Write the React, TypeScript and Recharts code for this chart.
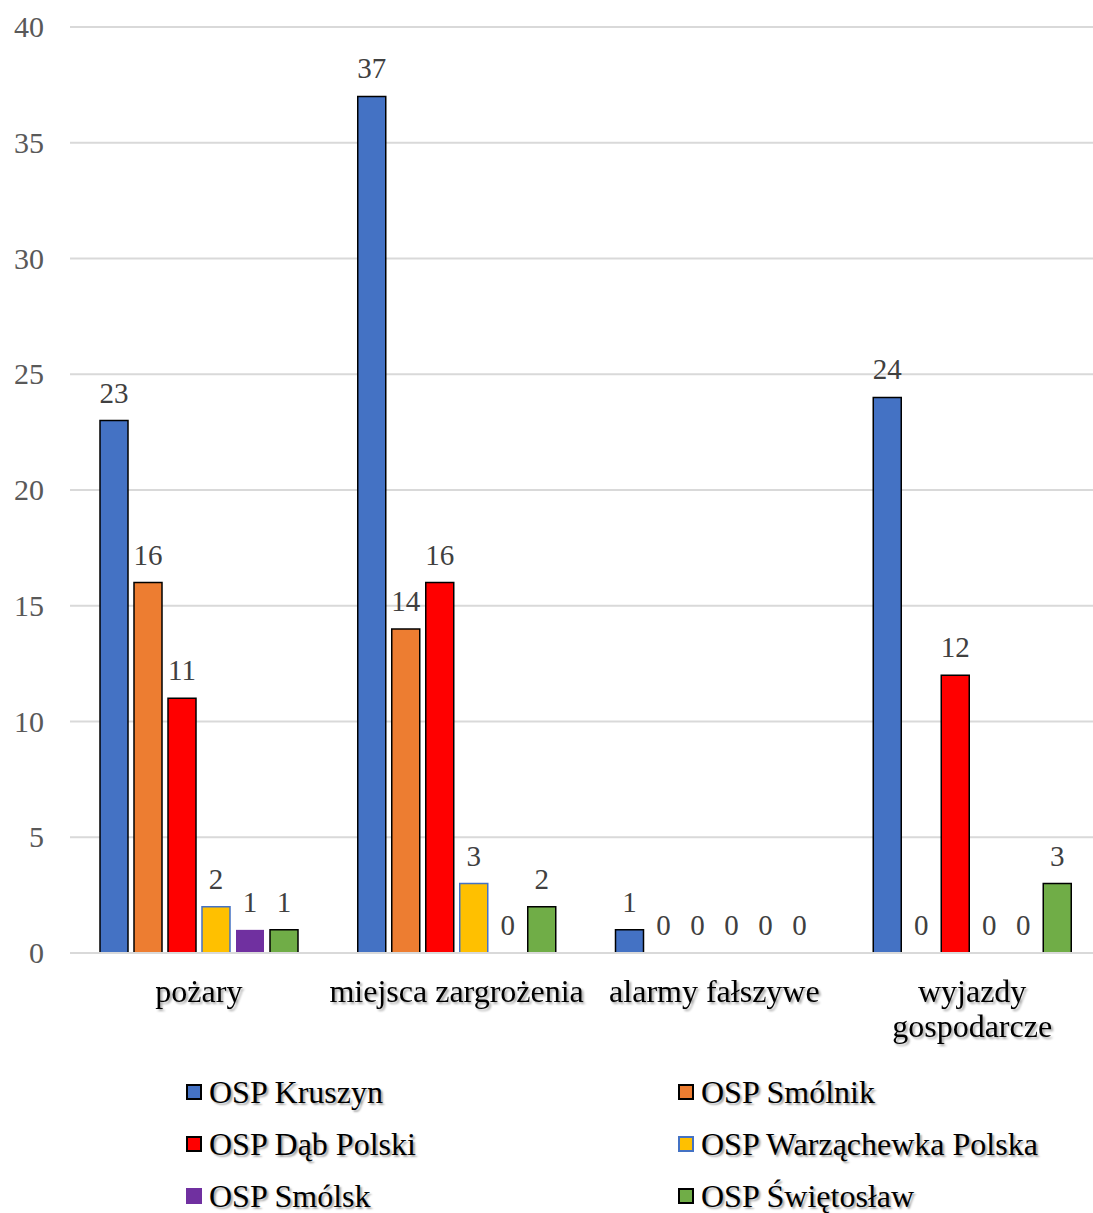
import React from "react";
import { BarChart, Bar, XAxis, YAxis, CartesianGrid, LabelList, Legend, Rectangle } from "recharts";

const categories = ["pożary", "miejsca zargrożenia", "alarmy fałszywe", "wyjazdy gospodarcze"];
const categoryLines: string[][] = [["pożary"], ["miejsca zargrożenia"], ["alarmy fałszywe"], ["wyjazdy", "gospodarcze"]];
const kruszyn = [23, 37, 1, 24];
const smolnik = [16, 14, 0, 0];
const dab = [11, 16, 0, 12];
const warzachewka = [2, 3, 0, 0];
const smolsk = [1, 0, 0, 0];
const swietoslaw = [1, 2, 0, 3];
const yTicks = [0, 5, 10, 15, 20, 25, 30, 35, 40];

const series = [
  { key: "kruszyn", name: "OSP Kruszyn", values: kruszyn, fill: "#4472C4", stroke: "#000000" },
  { key: "smolnik", name: "OSP Smólnik", values: smolnik, fill: "#ED7D31", stroke: "#000000" },
  { key: "dab", name: "OSP Dąb Polski", values: dab, fill: "#FF0000", stroke: "#000000" },
  { key: "warzachewka", name: "OSP Warząchewka Polska", values: warzachewka, fill: "#FFC000", stroke: "#4472C4" },
  { key: "smolsk", name: "OSP Smólsk", values: smolsk, fill: "#7030A0", stroke: "none" },
  { key: "swietoslaw", name: "OSP Świętosław", values: swietoslaw, fill: "#70AD47", stroke: "#000000" },
];

const data = categories.map((c, i) => {
  const row: Record<string, string | number> = { category: c };
  series.forEach((s) => {
    row[s.key] = s.values[i];
  });
  return row;
});

const FONT = "'Liberation Serif', 'Times New Roman', serif";

const CategoryTick = (props: any) => {
  const { x, y, payload } = props;
  const idx = categories.indexOf(payload.value);
  const lines = idx >= 0 ? categoryLines[idx] : [payload.value];
  return (
    <g transform={`translate(${x},${y})`}>
      <text
        textAnchor="middle"
        style={{ fontFamily: FONT, fontSize: 32 }}
        fill="#000000"
        filter="url(#txtShadow)"
      >
        {lines.map((l, i) => (
          <tspan key={i} x={0} y={41 + i * 35}>
            {l}
          </tspan>
        ))}
      </text>
    </g>
  );
};

const ValueTick = (props: any) => {
  const { x, y, payload } = props;
  return (
    <text x={x} y={y} dy={10} textAnchor="end" style={{ fontFamily: FONT, fontSize: 30 }} fill="#595959">
      {payload.value}
    </text>
  );
};

const BarValueLabel = (props: any) => {
  const { x, y, width, height, value } = props;
  if (value == null) return null;
  const top = Math.min(Number(y), Number(y) + Number(height || 0));
  return (
    <text
      x={Number(x) + Number(width) / 2}
      y={top - 18}
      textAnchor="middle"
      style={{ fontFamily: FONT, fontSize: 29 }}
      fill="#404040"
    >
      {value}
    </text>
  );
};

const BarShape = (props: any) => {
  const { height } = props;
  if (Math.abs(Number(height)) < 0.5) return <g />;
  return <Rectangle {...props} />;
};

const zeroMinSize = (value: any) => (value === 0 ? 0.01 : 0);

const LegendContent = () => {
  const cols = [186, 678];
  return (
    <div style={{ position: "relative", width: 1093, height: 150 }}>
      {series.map((s, i) => {
        const col = i % 2;
        const row = Math.floor(i / 2);
        return (
          <div
            key={s.key}
            style={{
              position: "absolute",
              left: cols[col],
              top: row * 52,
              display: "flex",
              alignItems: "center",
              height: 46,
              whiteSpace: "nowrap",
            }}
          >
            <span
              style={{
                display: "inline-block",
                width: 16,
                height: 16,
                boxSizing: "border-box",
                background: s.fill,
                border: s.stroke === "none" ? "none" : `2px solid ${s.stroke}`,
                marginRight: 7,
              }}
            />
            <span
              style={{
                fontFamily: FONT,
                fontSize: 32,
                color: "#000000",
                textShadow: "2px 2px 2px rgba(0,0,0,0.35)",
              }}
            >
              {s.name}
            </span>
          </div>
        );
      })}
    </div>
  );
};

export default function App() {
  return (
    <div style={{ position: "absolute", left: 0, top: 0, width: 1093, height: 1213, background: "#ffffff", overflow: "hidden" }}>
      <BarChart
        width={1101}
        height={1213}
        data={data}
        margin={{ top: 27, right: 0, left: 0, bottom: 160 }}
        barSize={28}
        barGap={6}
      >
        <defs>
          <filter id="txtShadow" x="-10%" y="-10%" width="130%" height="140%">
            <feDropShadow dx="2" dy="2" stdDeviation="1.2" floodColor="#000000" floodOpacity="0.35" />
          </filter>
        </defs>
        <CartesianGrid vertical={false} stroke="#D9D9D9" strokeWidth={2} />
        <XAxis
          dataKey="category"
          height={100}
          axisLine={{ stroke: "#D9D9D9", strokeWidth: 2 }}
          tickLine={false}
          tick={<CategoryTick />}
          interval={0}
        />
        <YAxis
          width={70}
          domain={[0, 40]}
          ticks={yTicks}
          axisLine={false}
          tickLine={false}
          tickMargin={20}
          tick={<ValueTick />}
        />
        <Legend
          layout="vertical"
          verticalAlign="middle"
          align="center"
          wrapperStyle={{ position: "absolute", top: 1069, left: 0, width: 1093, height: 150 }}
          content={<LegendContent />}
        />
        {series.map((s) => (
          <Bar
            key={s.key}
            dataKey={s.key}
            name={s.name}
            fill={s.fill}
            stroke={s.stroke}
            strokeWidth={s.stroke === "none" ? 0 : 1.5}
            minPointSize={zeroMinSize}
            shape={<BarShape />}
            isAnimationActive={false}
          >
            <LabelList dataKey={s.key} content={<BarValueLabel />} />
          </Bar>
        ))}
      </BarChart>
    </div>
  );
}
